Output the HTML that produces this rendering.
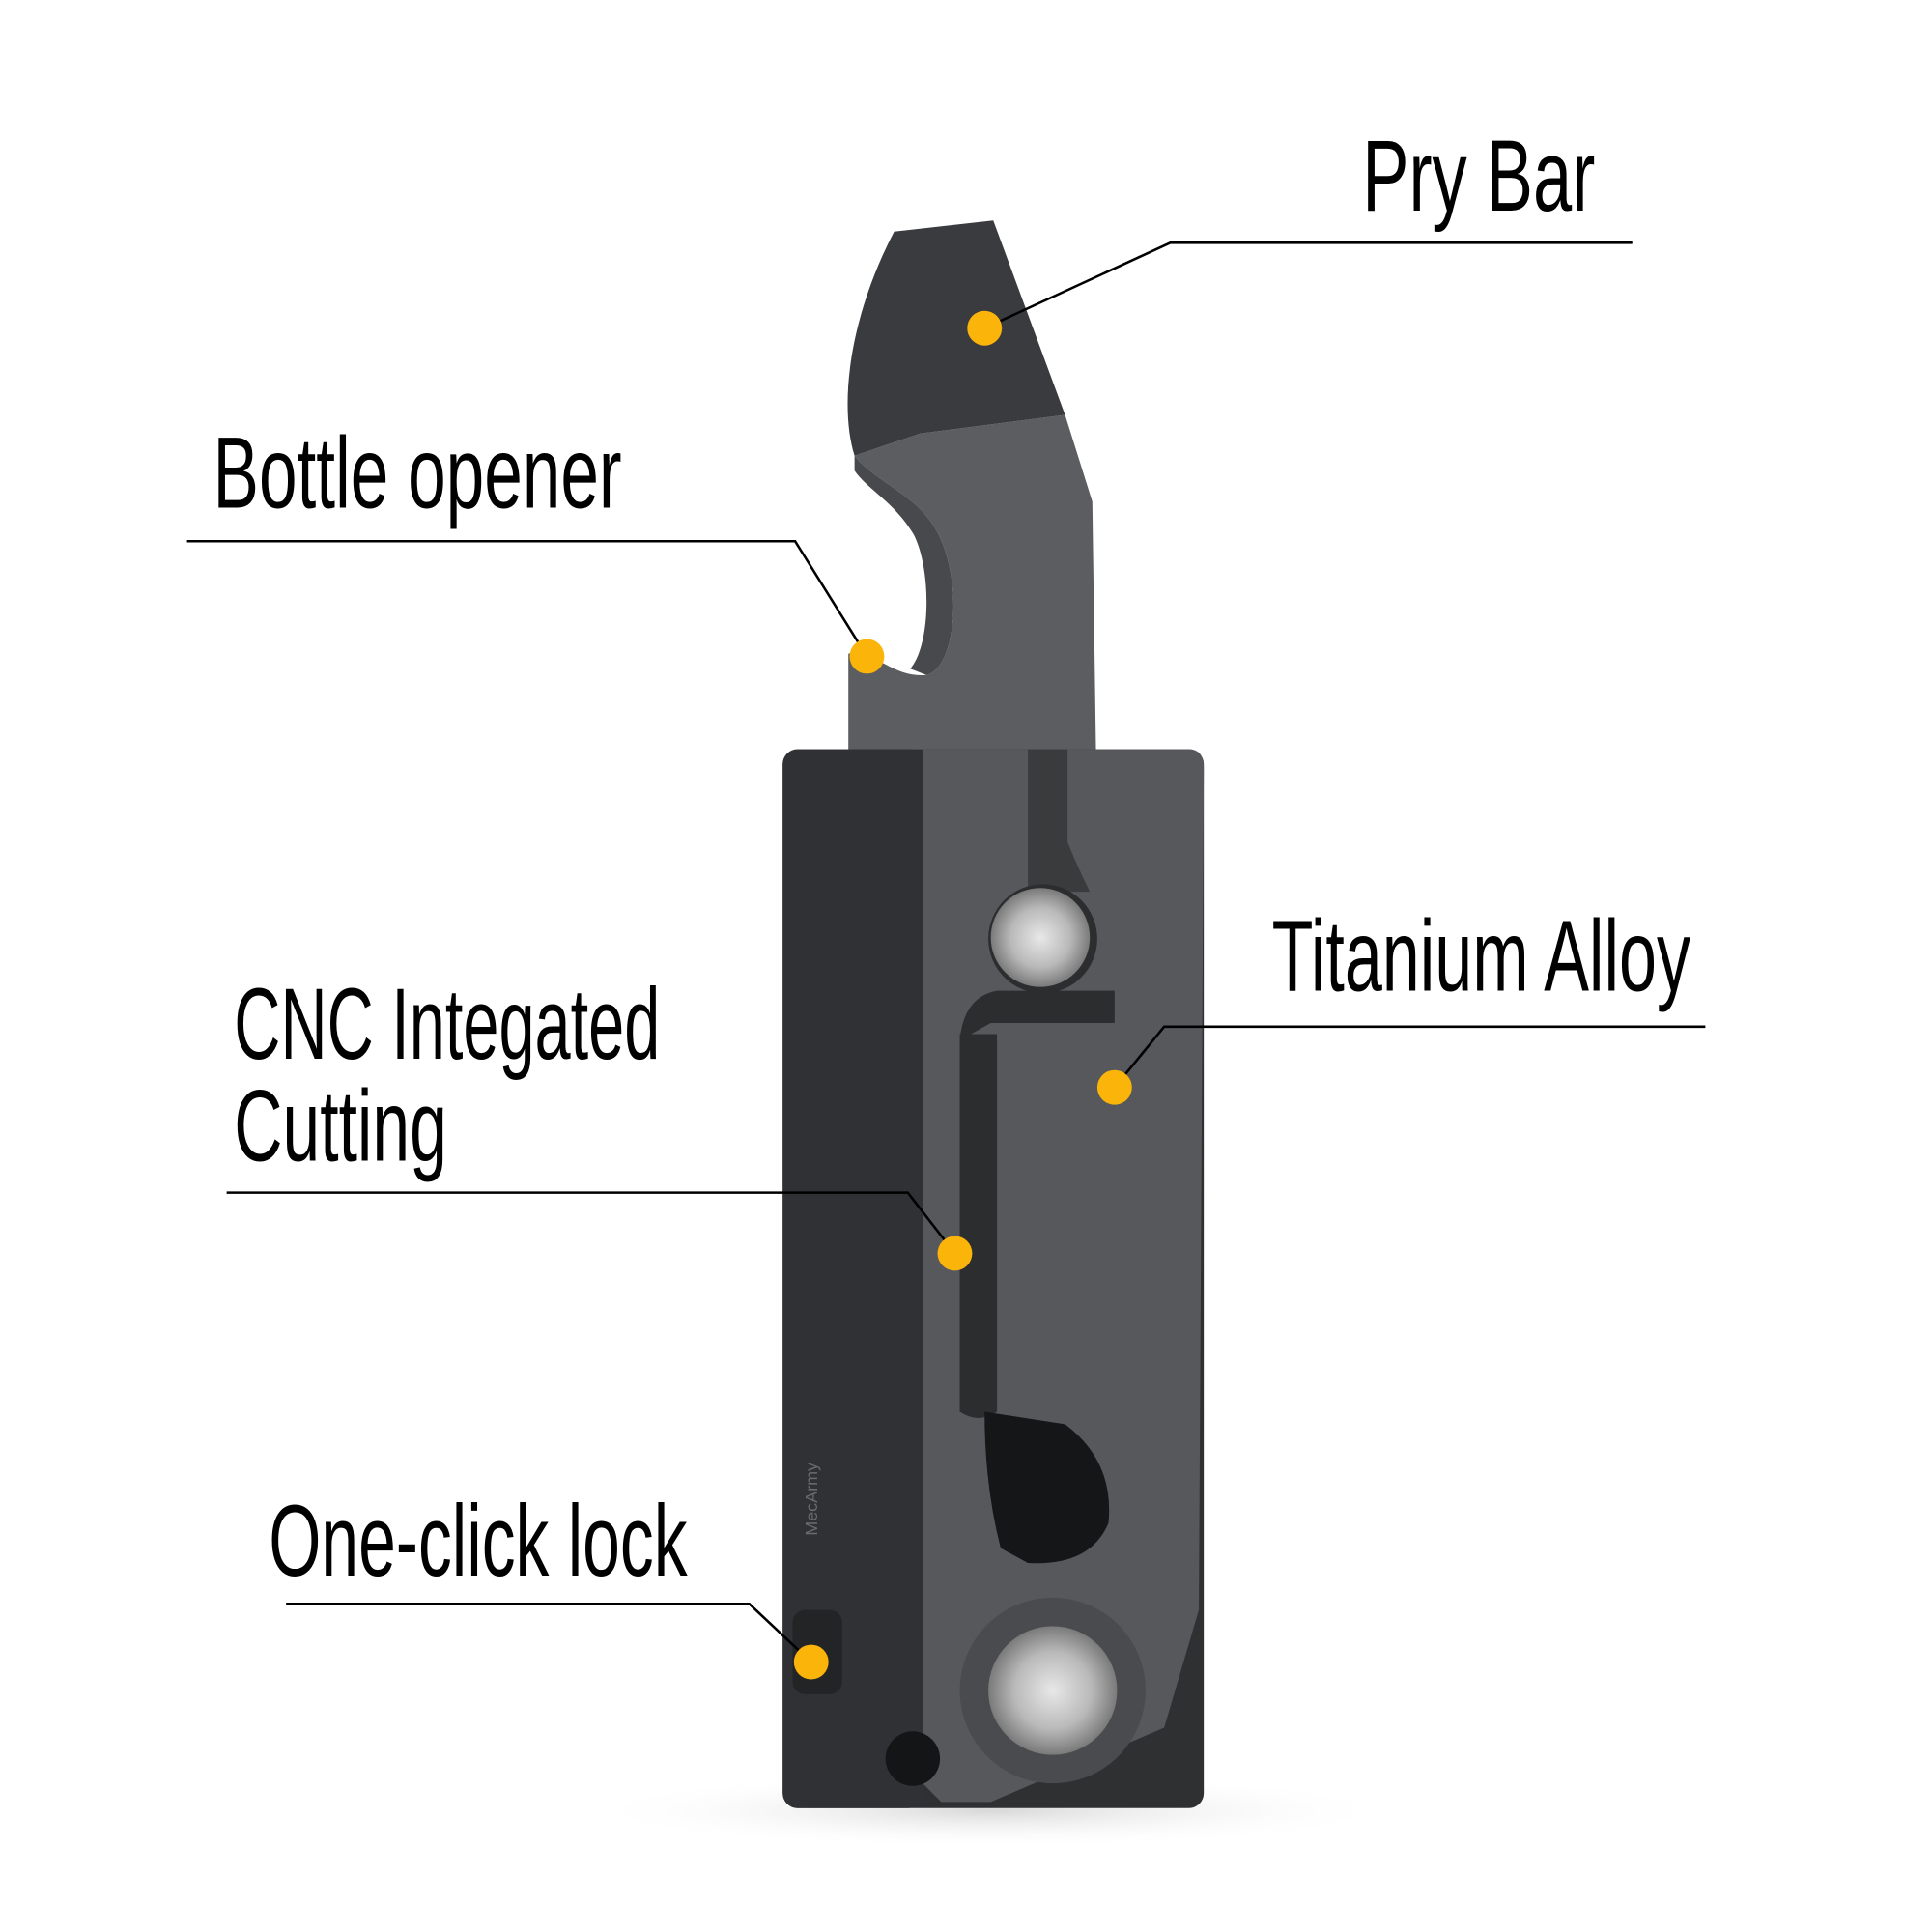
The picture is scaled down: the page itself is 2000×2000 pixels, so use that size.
<!DOCTYPE html>
<html><head><meta charset="utf-8"><style>
html,body{margin:0;padding:0;background:#fff;}
svg{display:block;}
text{font-family:"Liberation Sans Narrow","Liberation Sans",sans-serif;fill:#000;}
</style></head><body>
<svg width="2000" height="2000" viewBox="0 0 1560 1560" xmlns="http://www.w3.org/2000/svg">
<defs>
<radialGradient id="met" cx="50%" cy="50%" r="50%">
<stop offset="0" stop-color="#e8e8e8"/><stop offset="0.6" stop-color="#b9b9b9"/><stop offset="1" stop-color="#7a7a7a"/>
</radialGradient>
<radialGradient id="sh" cx="50%" cy="50%" r="50%">
<stop offset="0" stop-color="#d8d8d8"/><stop offset="1" stop-color="#ffffff" stop-opacity="0"/>
</radialGradient>
</defs>
<ellipse cx="800" cy="1462" rx="330" ry="30" fill="url(#sh)"/>
<!-- pry bar -->
<path d="M743,350 L860,335 L882,405 L885,610 L685,610 L685,528 C700,520 720,548 748,545 C772,540 778,470 757,430 C742,400 705,388 690,368 Z" fill="#5c5d60"/>
<path d="M722,187 L802,178 L860,335 L743,350 L690,368 C678,330 684,260 722,187 Z" fill="#3a3b3e"/>
<path d="M690,368 C705,388 742,400 757,430 C778,470 772,540 748,545 L735,540 C752,520 752,460 738,432 C722,405 700,395 690,380 Z" fill="#48494c"/>
<!-- body -->
<rect x="632" y="605" width="340" height="855" rx="12" fill="#2f3032"/>
<path d="M745,605 L960,605 Q972,605 972,620 L968,1300 L940,1395 L800,1455 L760,1455 L745,1440 Z" fill="#57585b"/>
<rect x="632" y="605" width="113" height="855" rx="12" fill="#303134"/>
<!-- top split -->
<path d="M830,605 L862,605 L862,680 Q870,700 880,720 L830,720 Z" fill="#3a3b3d"/>
<!-- slot -->
<path d="M775,840 L800,826 L900,826 L900,800 L805,800 Q778,805 775,840 L775,1140 Q790,1150 805,1140 L805,840 Z" fill="#2c2d2f"/>
<rect x="775" y="835" width="30" height="305" fill="#2c2d2f"/>
<circle cx="842" cy="758" r="44" fill="#2c2d2f"/>
<circle cx="840" cy="757" r="40" fill="url(#met)"/>
<!-- lower opening -->
<path d="M795,1140 L860,1150 Q900,1180 895,1230 Q880,1265 830,1262 L808,1250 Q795,1200 795,1140 Z" fill="#151617"/>
<!-- lower knuckle -->
<circle cx="850" cy="1365" r="75" fill="#4a4b4e"/>
<circle cx="850" cy="1365" r="52" fill="url(#met)"/>
<rect x="640" y="1300" width="40" height="68" rx="10" fill="#232426"/>
<circle cx="737" cy="1420" r="22" fill="#141516"/>
<text x="0" y="0" font-size="14" fill="#6a6b6e" transform="translate(660,1240) rotate(-90)" style="fill:#6a6b6e">MecArmy</text>
<!-- connectors -->
<g stroke="#000" stroke-width="2" fill="none">
<polyline points="795,265 945,196 1318,196"/>
<polyline points="151,437 642,437 700,530"/>
<polyline points="900,878 940,829 1377,829"/>
<polyline points="183,963 733,963 771,1012"/>
<polyline points="231,1295 605,1295 655,1342"/>
</g>
<g fill="#fbb40a">
<circle cx="795" cy="265" r="14"/>
<circle cx="700" cy="530" r="14"/>
<circle cx="900" cy="878" r="14"/>
<circle cx="771" cy="1012" r="14"/>
<circle cx="655" cy="1342" r="14"/>
</g>
<g font-size="82">
<text x="1100" y="170" textLength="188" lengthAdjust="spacingAndGlyphs">Pry Bar</text>
<text x="172" y="410" textLength="330" lengthAdjust="spacingAndGlyphs">Bottle opener</text>
<text x="1027" y="800" textLength="338" lengthAdjust="spacingAndGlyphs">Titanium Alloy</text>
<text x="189" y="855" textLength="344" lengthAdjust="spacingAndGlyphs">CNC Integated</text>
<text x="189" y="937" textLength="172" lengthAdjust="spacingAndGlyphs">Cutting</text>
<text x="217" y="1272" textLength="338" lengthAdjust="spacingAndGlyphs">One-click lock</text>
</g>
</svg>
</body></html>
